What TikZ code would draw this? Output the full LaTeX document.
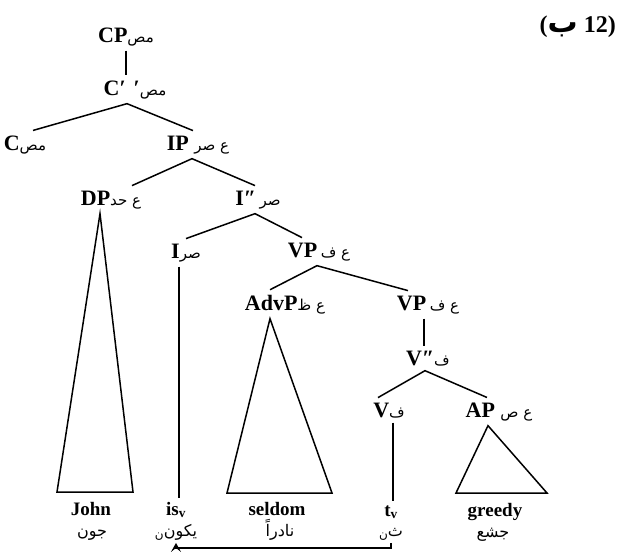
\documentclass[tikz,border=0pt]{standalone}
\usepackage{fontspec}
\setmainfont{Liberation Serif}
\newfontfamily\arabicfont[Script=Arabic]{DejaVu Sans}
\TeXXeTstate=1
\usepackage{tikz}
\usetikzlibrary{arrows.meta}
\newcommand{\artxt}[1]{{\arabicfont\mdseries\beginR #1\endR}}
\newcommand{\arsm}[1]{{\fontsize{15}{17}\selectfont\artxt{#1}}}
\newcommand{\arsub}[1]{\raisebox{-2pt}{\fontsize{12}{12}\selectfont #1}}

\begin{document}
\begin{tikzpicture}[x=1pt, y=-1pt,
  cat/.style={font=\fontsize{22}{24}\selectfont\bfseries, anchor=base, inner sep=1pt, outer sep=4pt},
  word/.style={font=\fontsize{19}{22}\selectfont\bfseries, anchor=base, inner sep=1pt, outer sep=3pt},
  gloss/.style={font=\fontsize{16}{18}\selectfont, anchor=base, inner sep=1pt, outer sep=2pt},
  branch/.style={line width=1.5pt},
  tri/.style={line width=1.5pt, line join=miter},
  move/.style={line width=1.5pt, -{Stealth[length=9pt, width=10pt, inset=4pt]}}
]
\useasboundingbox (0,0) rectangle (619,552);

% example number
\node[anchor=base east, inner sep=0pt, font=\fontsize{24}{26}\selectfont\bfseries] (exno) at (616,32) {({\fontsize{30}{32}\selectfont\arabicfont\bfseries\beginR ب\endR}\ 12)};

% categories
\node[cat] (CP) at (126,42) {CP\arsm{مص}};
\node[cat] (Cbar) at (135,95) {C′\hspace{8pt}′\arsm{مص}};
\node[cat] (C) at (25,150) {C\arsm{مص}};
\node[cat] (IP) at (198,150) {IP\ \arsm{ع صر}};
\node[cat] (DP) at (111,205) {DP\arsm{ع حد}};
\node[cat] (Ibar) at (258,205) {I″\,\arsm{صر}};
\node[cat] (I) at (186,258) {I\arsm{صر}};
\node[cat] (VP1) at (319,257) {VP\,\arsm{ع ف}};
\node[cat] (AdvP) at (285,310) {AdvP\arsm{ع ظ}};
\node[cat] (VP2) at (428,310) {VP\,\arsm{ع ف}};
\node[cat] (Vbar) at (428,365) {V″\arsm{ف}};
\node[cat] (V) at (389,417) {V\arsm{ف}};
\node[cat] (AP) at (499,417) {AP\ \arsm{ع ص}};

% words and glosses
\node[word] (john) at (91,515) {John};
\node[gloss] (johnar) at (92,536) {\artxt{جون}};
\node[word] (isv) at (176,515) {is\textsubscript{v}};
\node[gloss] (isvar) at (176,536) {\artxt{يكون\arsub{ن}}};
\node[word] (seldom) at (277,515) {seldom};
\node[gloss] (seldomar) at (280,536) {\artxt{نادراً}};
\node[word] (tv) at (391,516) {t\textsubscript{v}};
\node[gloss] (tvar) at (391,536) {\artxt{ث\arsub{ن}}};
\node[word] (greedy) at (495,516) {greedy};
\node[gloss] (greedyar) at (493,537) {\artxt{جشع}};

% branches
\draw[branch] (CP.south) -- (CP.south |- Cbar.north);
\draw[branch] ([xshift=8pt]C.north) -- ([xshift=-8pt]Cbar.south) -- ([xshift=-5pt]IP.north);
\draw[branch] ([xshift=21pt]DP.north) -- ([xshift=-6pt]IP.south) -- ([xshift=-3pt]Ibar.north);
\draw[branch] (I.north) -- ([xshift=-3pt]Ibar.south) -- ([xshift=-17pt]VP1.north);
\draw[branch] ([xshift=-15pt]AdvP.north) -- ([xshift=-2pt]VP1.south) -- ([xshift=-20pt]VP2.north);
\draw[branch] ([xshift=-4pt]VP2.south) -- ([xshift=-4pt]VP2.south |- Vbar.north);
\draw[branch] ([xshift=-11pt]V.north) -- ([xshift=-3pt]Vbar.south) -- ([xshift=-12pt]AP.north);
\draw[branch] ([xshift=-7pt]I.south) -- ([xshift=-7pt]I.south |- isv.north);
\draw[branch] ([xshift=4pt]V.south) -- ([xshift=4pt]V.south |- tv.north);

% triangles
\draw[tri] ([xshift=-11pt]DP.south) -- (57,492) -- (133,492) -- cycle;
\draw[tri] ([xshift=-15pt]AdvP.south) -- (227,493) -- (332,493) -- cycle;
\draw[tri] ([xshift=-11pt]AP.south) -- (456,493) -- (547,493) -- cycle;

% movement
\draw[move] (tvar.south) -- ++(0,5) -| (isvar.south);
\end{tikzpicture}
\end{document}
